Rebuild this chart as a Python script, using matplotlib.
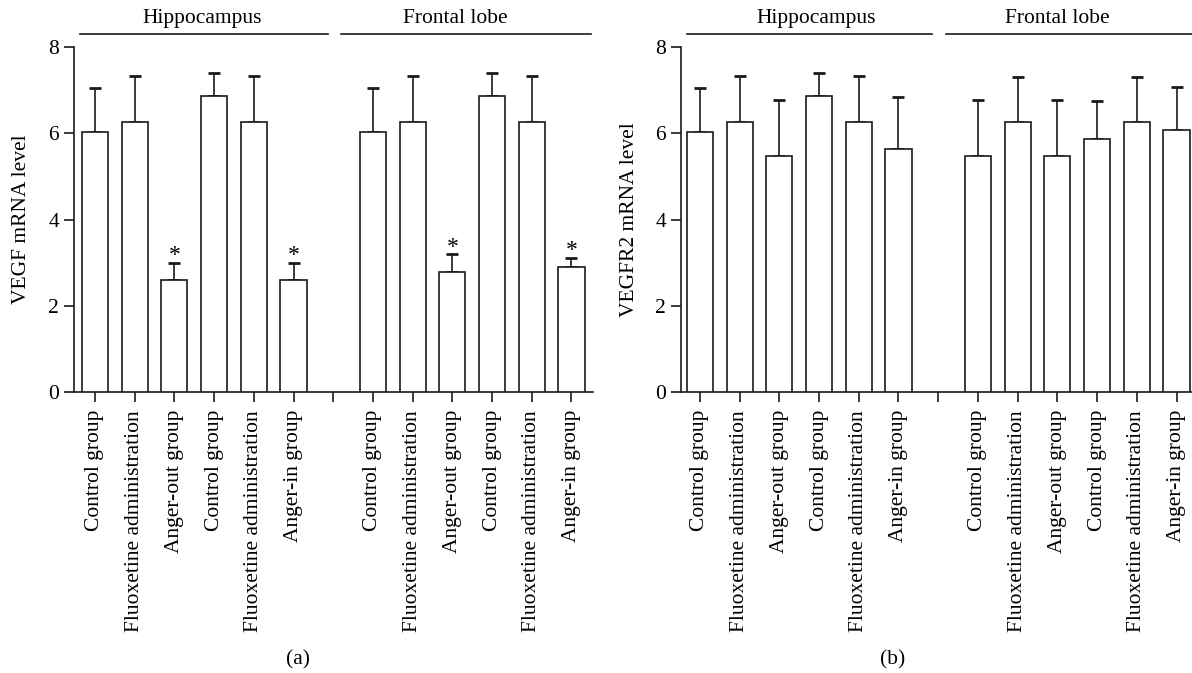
import matplotlib.pyplot as plt
import numpy as np

plt.rcParams['font.family'] = ['Liberation Serif', 'DejaVu Serif']
plt.rcParams['font.size'] = 15.5

# group labels on the x axis (one empty slot between the two regions)
groups = ['Control group', 'Fluoxetine administration', 'Anger-out group',
          'Control group', 'Fluoxetine administration', 'Anger-in group']
regions = ['Hippocampus', 'Frontal lobe']

# panel (a): VEGF mRNA level, mean and upper error end
vegf_hippo = [6.04, 6.26, 2.59, 6.87, 6.26, 2.59]
vegf_hippo_top = [7.04, 7.32, 2.99, 7.41, 7.32, 2.99]
vegf_frontal = [6.04, 6.26, 2.78, 6.87, 6.26, 2.91]
vegf_frontal_top = [7.04, 7.32, 3.19, 7.41, 7.32, 3.12]
vegf_star = [2, 5]   # bars marked with * (per region)

# panel (b): VEGFR2 mRNA level
vegfr2_hippo = [6.04, 6.26, 5.47, 6.87, 6.26, 5.64]
vegfr2_hippo_top = [7.04, 7.32, 6.77, 7.41, 7.32, 6.84]
vegfr2_frontal = [5.47, 6.26, 5.47, 5.86, 6.26, 6.07]
vegfr2_frontal_top = [6.77, 7.30, 6.77, 6.75, 7.30, 7.07]

x_hippo = np.arange(6)
x_frontal = np.arange(6) + 7
x_all = np.concatenate([x_hippo, x_frontal])

fig = plt.figure(figsize=(11.92, 6.73), dpi=100)
ax1 = fig.add_axes([0.0617, 0.4175, 0.436, 0.5125])
ax2 = fig.add_axes([0.571, 0.4175, 0.428, 0.5125])


def draw_panel(ax, hippo, hippo_top, frontal, frontal_top, ylabel, stars,
               xlim, lines, text_x):
    vals = np.array(hippo + frontal)
    tops = np.array(hippo_top + frontal_top)
    ax.bar(x_all, vals, width=0.66, color='white', edgecolor='#1a1a1a',
           linewidth=1.2, zorder=3)
    ax.errorbar(x_all, vals, yerr=[np.zeros_like(vals), tops - vals],
                fmt='none', ecolor='#1a1a1a', elinewidth=1.2, capsize=4.5,
                capthick=2.0, zorder=2)
    for i in stars:
        for xs, t in ((x_hippo, hippo_top), (x_frontal, frontal_top)):
            ax.text(xs[i], t[i] + 0.17, '*', ha='center', va='center',
                    fontsize=17)
    ax.set_xlim(*xlim)
    ax.set_ylim(0, 8)
    ax.set_yticks([0, 2, 4, 6, 8])
    ax.set_xticks(np.arange(13))
    ax.set_xticklabels(groups + [''] + groups, rotation=90)
    ax.set_ylabel(ylabel)
    ax.yaxis.set_label_coords(-0.081, 0.5)
    for s in ['top', 'right']:
        ax.spines[s].set_visible(False)
    for s in ['left', 'bottom']:
        ax.spines[s].set_linewidth(1.2)
        ax.spines[s].set_color('#1a1a1a')
    ax.tick_params(direction='out', length=7, width=1.2, color='#1a1a1a')
    ax.tick_params(axis='x', pad=6)
    # region brackets above the bars
    for (x0, x1), tx, name in zip(lines, text_x, regions):
        ax.plot([x0, x1], [8.3, 8.3], color='#1a1a1a', lw=1.2,
                clip_on=False)
        ax.text(tx, 8.45, name, ha='center', va='bottom')


draw_panel(ax1, vegf_hippo, vegf_hippo_top, vegf_frontal, vegf_frontal_top,
           'VEGF mRNA level', vegf_star, (-0.54, 12.55),
           [(-0.38, 5.86), (6.19, 12.49)], [2.71, 9.08])
draw_panel(ax2, vegfr2_hippo, vegfr2_hippo_top, vegfr2_frontal,
           vegfr2_frontal_top, 'VEGFR2 mRNA level', [], (-0.485, 12.36),
           [(-0.33, 5.85), (6.2, 12.4)], [2.93, 9.0])

fig.text(298 / 1192, 1 - 660 / 673, '(a)', ha='center', va='center')
fig.text(893 / 1192, 1 - 660 / 673, '(b)', ha='center', va='center')

fig.savefig('out.png', dpi=100)
